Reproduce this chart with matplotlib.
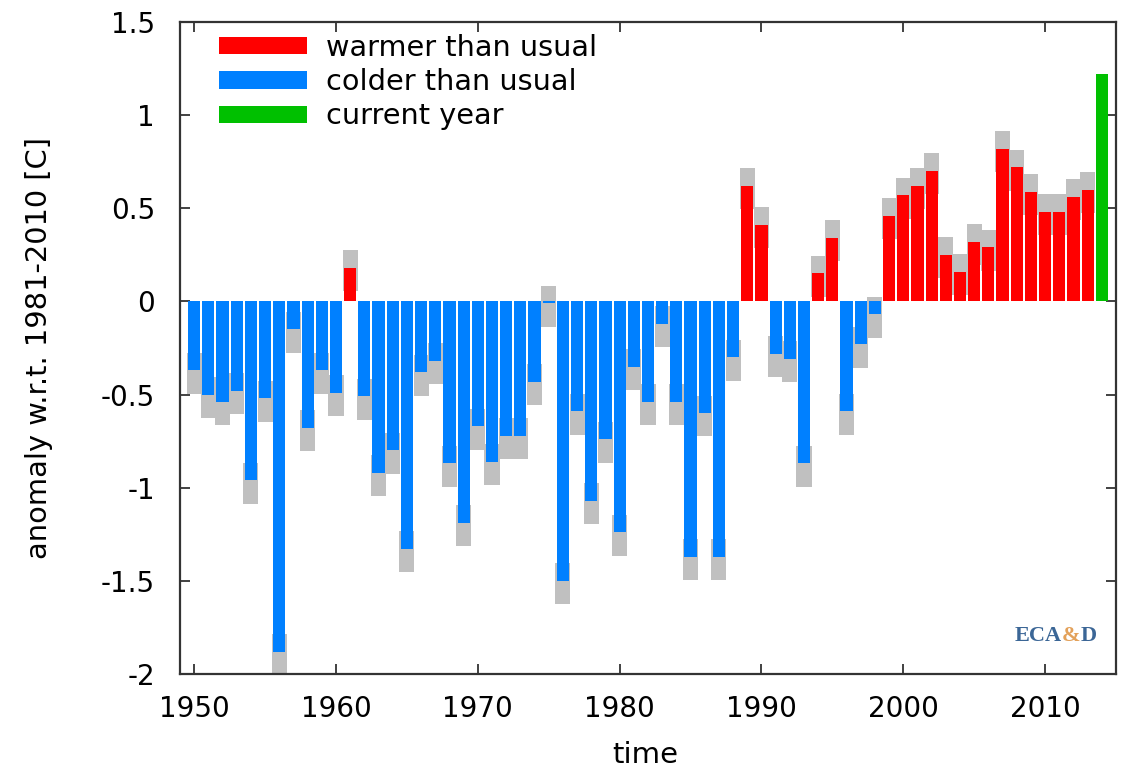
import matplotlib
matplotlib.use("Agg")
import matplotlib.pyplot as plt
from matplotlib.patches import Patch
import numpy as np

# ---- data ----
years = list(range(1950, 2015))
anomaly = [
    -0.37, -0.50, -0.54, -0.48, -0.96, -0.52, -1.88, -0.15, -0.68, -0.37,   # 1950-59
    -0.49,  0.18, -0.51, -0.92, -0.80, -1.33, -0.38, -0.32, -0.87, -1.19,   # 1960-69
    -0.67, -0.86, -0.72, -0.72, -0.43, -0.01, -1.50, -0.59, -1.07, -0.74,   # 1970-79
    -1.24, -0.35, -0.54, -0.12, -0.54, -1.37, -0.60, -1.37, -0.30,  0.62,   # 1980-89
     0.41, -0.28, -0.31, -0.87,  0.15,  0.34, -0.59, -0.23, -0.07,  0.46,   # 1990-99
     0.57,  0.62,  0.70,  0.25,  0.16,  0.32,  0.29,  0.82,  0.72,  0.59,   # 2000-09
     0.48,  0.48,  0.56,  0.60,  1.22,                                      # 2010-14
]
unc_below = 0.125   # grey uncertainty box extent below the value
unc_above = 0.095   # grey uncertainty box extent above the value
legend_labels = ["warmer than usual", "colder than usual", "current year"]
xticks = [1950, 1960, 1970, 1980, 1990, 2000, 2010]
yticks = [-2, -1.5, -1, -0.5, 0, 0.5, 1, 1.5]
ytick_labels = ["-2", "-1.5", "-1", "-0.5", "0", "0.5", "1", "1.5"]

RED, BLUE, GREEN, GREY = "#ff0000", "#0080ff", "#00c000", "#c0c0c0"

plt.rcParams["font.family"] = ["DejaVu Sans"]
FS = 20

fig = plt.figure(figsize=(11.27, 7.71), dpi=100)
ax = fig.add_axes([180 / 1127, 1 - 674 / 771, (1116 - 180) / 1127, (674 - 22) / 771])

yrs = np.array(years)
val = np.array(anomaly)
past = yrs[:-1]
pval = val[:-1]

# grey uncertainty boxes (not for the current year)
ax.bar(past, unc_below + unc_above, bottom=pval - unc_below, width=1.06,
       color=GREY, linewidth=0, zorder=2)

colors = [RED if v > 0 else BLUE for v in pval]
ax.bar(past, pval, width=0.86, color=colors, linewidth=0, zorder=3)
ax.bar(yrs[-1:], val[-1:], width=0.86, color=GREEN, linewidth=0, zorder=3)

ax.set_xlim(1949, 2015)
ax.set_ylim(-2, 1.5)
ax.set_xticks(xticks)
ax.set_xticklabels([str(t) for t in xticks])
ax.set_yticks(yticks)
ax.set_yticklabels(ytick_labels)

ax.tick_params(direction="in", top=True, right=True, length=7, width=1.3,
               color="#333333", labelsize=FS, labelcolor="black")
ax.tick_params(axis="y", pad=18)
ax.tick_params(axis="x", pad=15)
for s in ax.spines.values():
    s.set_linewidth(1.6)
    s.set_color("#333333")

ax.set_xlabel("time", fontsize=FS + 1)
ax.xaxis.set_label_coords(0.497, -0.103)
ax.set_ylabel("anomaly w.r.t. 1981-2010 [C]", fontsize=FS + 0.8)
ax.yaxis.set_label_coords(-0.136, 0.5)

handles = [Patch(facecolor=c, edgecolor="none") for c in (RED, BLUE, GREEN)]
ax.legend(handles, legend_labels, loc="upper left", bbox_to_anchor=(0.042, 0.982),
          frameon=False, fontsize=FS + 0.7, handlelength=3.05, handleheight=0.55,
          handletextpad=0.65, labelspacing=0.22, borderaxespad=0, borderpad=0)

EFS = 16
t1 = ax.text(0.892, 0.05, "ECA", transform=ax.transAxes, fontsize=EFS,
             family="Liberation Serif", weight="bold", color="#3b6696",
             ha="left", va="baseline")
t2 = ax.annotate("&", xy=(1, 0), xycoords=t1, fontsize=EFS, family="Liberation Serif",
                 weight="bold", color="#e3a15a", ha="left", va="bottom")
ax.annotate("D", xy=(1, 0), xycoords=t2, fontsize=EFS, family="Liberation Serif",
            weight="bold", color="#3b6696", ha="left", va="bottom")

fig.savefig("out.png", dpi=100, facecolor="white")
